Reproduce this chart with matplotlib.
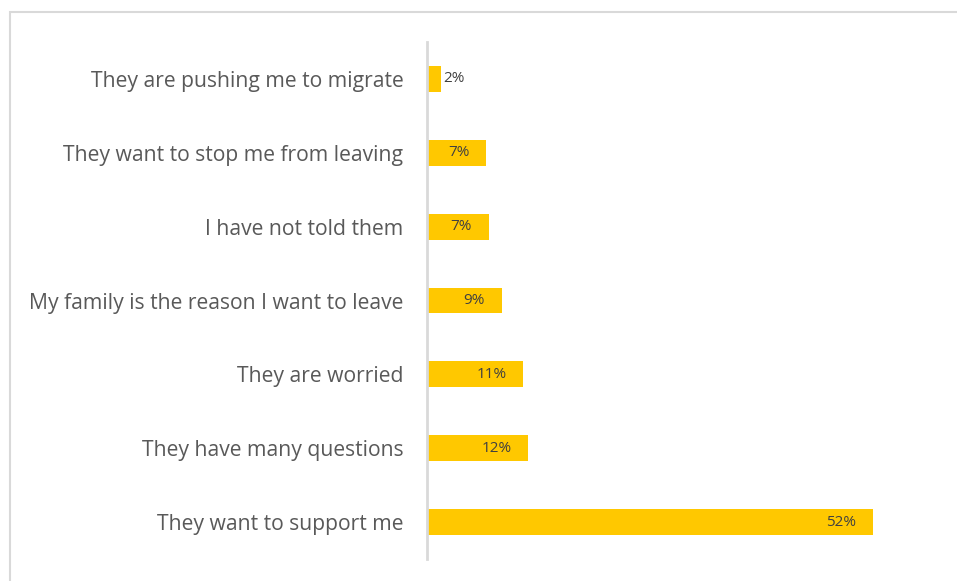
import matplotlib.pyplot as plt
from matplotlib.patches import Rectangle

categories = [
    "They want to support me",
    "They have many questions",
    "They are worried",
    "My family is the reason I want to leave",
    "I have not told them",
    "They want to stop me from leaving",
    "They are pushing me to migrate",
]
values = [52, 11.8, 11.2, 8.7, 7.2, 6.9, 1.6]

W, H = 957, 581
fig = plt.figure(figsize=(W / 100, H / 100), dpi=100)

# outer chart border (light gray, runs off right/bottom edges)
fig.patches.append(Rectangle((10 / W, -0.1), 1.2, (H - 12) / H + 0.1,
                             transform=fig.transFigure, fill=False,
                             edgecolor="#d9d9d9", linewidth=1.5))

ax_left, ax_right = 427, 942
ax_top, ax_bottom = 42, 559
ax = fig.add_axes([ax_left / W, 1 - ax_bottom / H,
                   (ax_right - ax_left) / W, (ax_bottom - ax_top) / H])

ypos = range(len(categories))
bars = ax.barh(ypos, values, height=0.35, color="#FFC800")
ax.set_ylim(-0.5, len(categories) - 0.5)
ax.set_xlim(0, (ax_right - ax_left) / (873 - 427) * 52)

ax.set_yticks(list(ypos))
ax.set_yticklabels(categories, fontsize=15.2, color="#595959",
                   family="Open Sans")
ax.tick_params(axis="y", length=0, pad=17)
ax.set_xticks([])
for s in ["top", "right", "bottom"]:
    ax.spines[s].set_visible(False)
ax.spines["left"].set_color("#d9d9d9")
ax.spines["left"].set_linewidth(2)

for b, v in zip(bars, values):
    y = b.get_y() + b.get_height() / 2
    label = f"{v:.0f}%"
    if v < 4:
        ax.annotate(label, (v, y), xytext=(2, 0), textcoords="offset points",
                    ha="left", va="center", fontsize=11, color="#404040",
                    family="Open Sans")
    else:
        ax.annotate(label, (v, y), xytext=(-12, 0), textcoords="offset points",
                    ha="right", va="center", fontsize=11, color="#404040",
                    family="Open Sans")

fig.savefig("out.png", dpi=100)
